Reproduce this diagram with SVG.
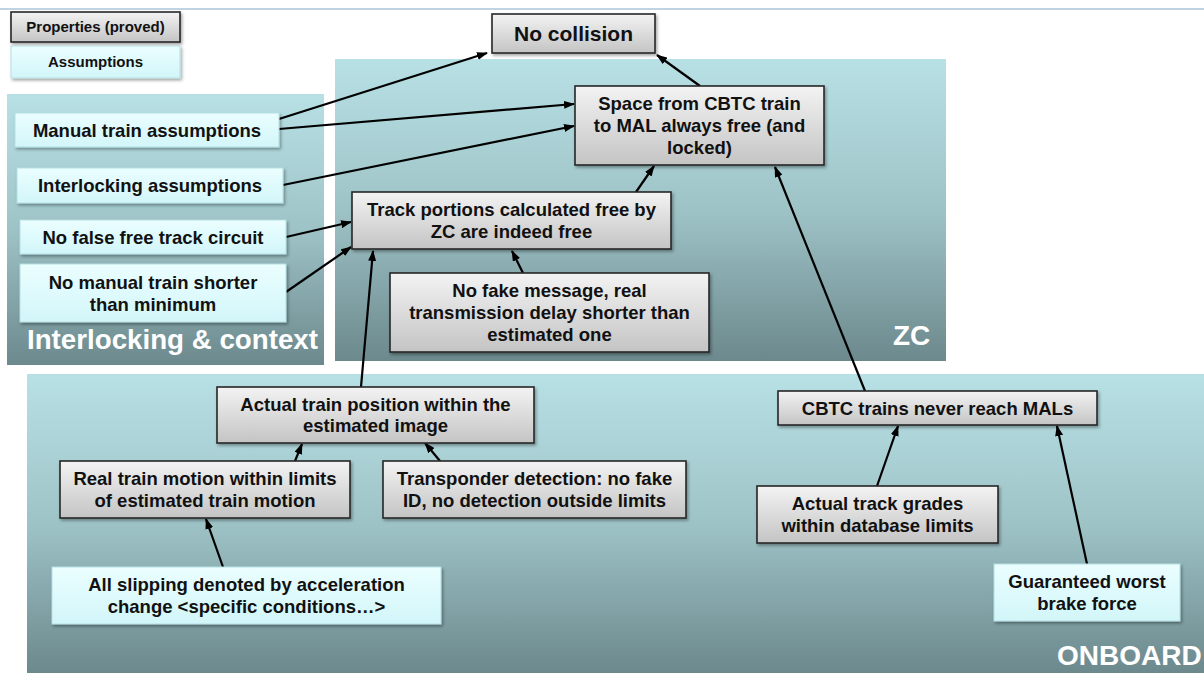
<svg xmlns="http://www.w3.org/2000/svg" width="1204" height="673" viewBox="0 0 1204 673">
<defs>
<linearGradient id="panelG" x1="0" y1="0" x2="0" y2="1">
<stop offset="0" stop-color="#b8e1e5"/>
<stop offset="0.5" stop-color="#9ec3c7"/>
<stop offset="1" stop-color="#6c898d"/>
</linearGradient>
<linearGradient id="grayG" x1="0" y1="0" x2="0" y2="1">
<stop offset="0" stop-color="#f3f3f3"/>
<stop offset="1" stop-color="#c4c4c4"/>
</linearGradient>
<linearGradient id="cyanG" x1="0" y1="0" x2="0" y2="1">
<stop offset="0" stop-color="#ebfeff"/>
<stop offset="1" stop-color="#d2f6f9"/>
</linearGradient>
<filter id="sh" x="-5%" y="-10%" width="112%" height="130%">
<feDropShadow dx="1.5" dy="2" stdDeviation="1.5" flood-color="#000" flood-opacity="0.35"/>
</filter>
<marker id="ah" markerWidth="11" markerHeight="8" refX="10" refY="4" orient="auto" markerUnits="userSpaceOnUse">
<path d="M0,0 L11,4 L0,8 Z" fill="#000"/>
</marker>
</defs>
<style>
.panel{fill:url(#panelG)}
.plabel{font-family:"Liberation Sans",Arial,sans-serif;font-weight:bold;font-size:28px;fill:#ffffff}
.prop{fill:url(#grayG);stroke:#262626;stroke-width:1.6;filter:url(#sh)}
.assm{fill:url(#cyanG);stroke:#b5dfe3;stroke-width:1;filter:url(#sh)}
.t{font-family:"Liberation Sans",Arial,sans-serif;font-weight:bold;font-size:18.5px;fill:#111;text-anchor:middle}
.tl{font-family:"Liberation Sans",Arial,sans-serif;font-weight:bold;font-size:15px;fill:#111;text-anchor:middle}
.c{stroke:#000;stroke-width:2.2;fill:none;marker-end:url(#ah)}
</style>
<rect x="0" y="0" width="1204" height="673" fill="#ffffff"/>
<line x1="0" y1="9" x2="1204" y2="9" stroke="#aac6da" stroke-width="1.5"/>

<g id="panels">
<rect class="panel" x="7" y="94" width="317" height="271"/>
<rect class="panel" x="335" y="59" width="611" height="302"/>
<rect class="panel" x="27" y="374" width="1177" height="299"/>
<text class="plabel" x="27" y="349" textLength="291" lengthAdjust="spacingAndGlyphs">Interlocking &amp; context</text>
<text class="plabel" x="893" y="345">ZC</text>
<text class="plabel" x="1057" y="665">ONBOARD</text>
</g>

<g id="legend">
<rect class="prop" x="11" y="12" width="169" height="30"/>
<text class="tl" x="95.5" y="32">Properties (proved)</text>
<rect class="assm" x="11" y="46" width="169" height="32"/>
<text class="tl" x="95.5" y="67">Assumptions</text>
</g>

<g id="connectors">
<path class="c" d="M279,119 L487,53"/>
<path class="c" d="M279,129 L574,104"/>
<path class="c" d="M283,185 L574,126"/>
<path class="c" d="M700,86 L657,55"/>
<path class="c" d="M636,192 L654,166"/>
<path class="c" d="M865,391 L775,167"/>
<path class="c" d="M286,237 L351,222"/>
<path class="c" d="M286,292 L351,247"/>
<path class="c" d="M361,387 L373,251"/>
<path class="c" d="M523,273 L512,251"/>
<path class="c" d="M295,461 L302,444"/>
<path class="c" d="M440,461 L425,443"/>
<path class="c" d="M223,567 L206,519"/>
<path class="c" d="M877,486 L898,426"/>
<path class="c" d="M1087,564 L1057,426"/>
</g>

<g id="no_collision">
<rect class="prop" x="492" y="14" width="163" height="39"/>
<text class="t" x="573.5" y="41" style="font-size:21px">No collision</text>
</g>
<g id="manual_train">
<rect class="assm" x="15" y="113" width="264" height="34"/>
<text class="t" x="147" y="136.5">Manual train assumptions</text>
</g>
<g id="interlocking_assumptions">
<rect class="assm" x="17" y="168" width="266" height="35"/>
<text class="t" x="150" y="192">Interlocking assumptions</text>
</g>
<g id="no_false_free">
<rect class="assm" x="20" y="220" width="266" height="34"/>
<text class="t" x="153" y="243.5">No false free track circuit</text>
</g>
<g id="no_manual_shorter">
<rect class="assm" x="20" y="264" width="266" height="58"/>
<text class="t" x="153" y="289">No manual train shorter</text>
<text class="t" x="153" y="311">than minimum</text>
</g>
<g id="space_free">
<rect class="prop" x="575" y="86" width="249" height="79"/>
<text class="t" x="699.5" y="110">Space from CBTC train</text>
<text class="t" x="699.5" y="132">to MAL always free (and</text>
<text class="t" x="699.5" y="154">locked)</text>
</g>
<g id="track_portions">
<rect class="prop" x="352" y="192" width="319" height="57"/>
<text class="t" x="511.5" y="216">Track portions calculated free by</text>
<text class="t" x="511.5" y="238">ZC are indeed free</text>
</g>
<g id="no_fake_message">
<rect class="prop" x="390" y="273" width="319" height="79"/>
<text class="t" x="549.5" y="297">No fake message, real</text>
<text class="t" x="549.5" y="319">transmission delay shorter than</text>
<text class="t" x="549.5" y="341">estimated one</text>
</g>
<g id="actual_position">
<rect class="prop" x="217" y="387" width="317" height="56"/>
<text class="t" x="375.5" y="411">Actual train position within the</text>
<text class="t" x="375.5" y="432">estimated image</text>
</g>
<g id="real_motion">
<rect class="prop" x="60" y="461" width="290" height="57"/>
<text class="t" x="205" y="485">Real train motion within limits</text>
<text class="t" x="205" y="507">of estimated train motion</text>
</g>
<g id="transponder">
<rect class="prop" x="383" y="461" width="303" height="57"/>
<text class="t" x="534.5" y="485">Transponder detection: no fake</text>
<text class="t" x="534.5" y="507">ID, no detection outside limits</text>
</g>
<g id="all_slipping">
<rect class="assm" x="52" y="567" width="389" height="57"/>
<text class="t" x="246.5" y="591">All slipping denoted by acceleration</text>
<text class="t" x="246.5" y="613">change &lt;specific conditions…&gt;</text>
</g>
<g id="cbtc_never">
<rect class="prop" x="778" y="391" width="319" height="34"/>
<text class="t" x="937.5" y="414.5">CBTC trains never reach MALs</text>
</g>
<g id="track_grades">
<rect class="prop" x="757" y="486" width="241" height="57"/>
<text class="t" x="877.5" y="510">Actual track grades</text>
<text class="t" x="877.5" y="532">within database limits</text>
</g>
<g id="guaranteed_brake">
<rect class="assm" x="994" y="564" width="186" height="57"/>
<text class="t" x="1087" y="588">Guaranteed worst</text>
<text class="t" x="1087" y="610">brake force</text>
</g>
</svg>
